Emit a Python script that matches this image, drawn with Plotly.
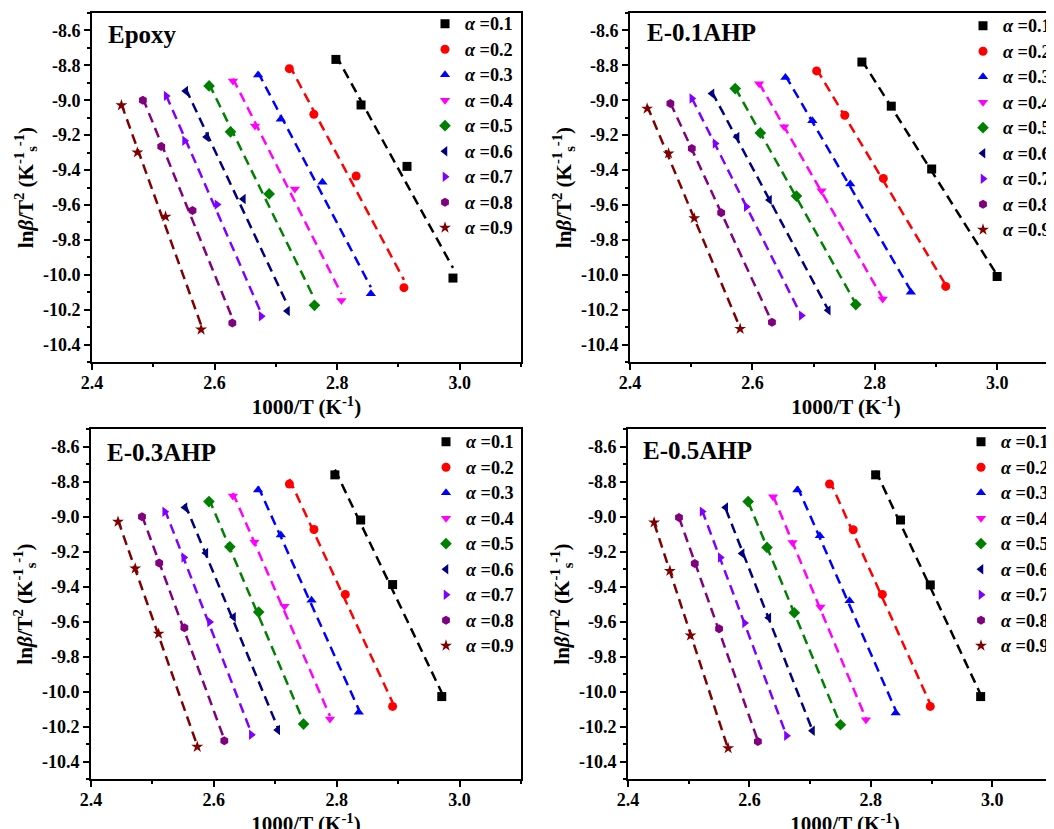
import numpy as np
import plotly.graph_objects as go

# ---------------- data ----------------
alphas = ["0.1", "0.2", "0.3", "0.4", "0.5", "0.6", "0.7", "0.8", "0.9"]
panel_names = ["Epoxy", "E-0.1AHP", "E-0.3AHP", "E-0.5AHP"]

epoxy_x = [
    [2.798, 2.839, 2.914, 2.989],
    [2.722, 2.762, 2.831, 2.909],
    [2.671, 2.708, 2.776, 2.855],
    [2.630, 2.666, 2.731, 2.807],
    [2.591, 2.626, 2.689, 2.763],
    [2.553, 2.587, 2.647, 2.719],
    [2.521, 2.551, 2.604, 2.676],
    [2.483, 2.513, 2.564, 2.629],
    [2.448, 2.474, 2.520, 2.578],
]
epoxy_y = [
    [-8.766, -9.027, -9.379, -10.019],
    [-8.819, -9.080, -9.434, -10.074],
    [-8.855, -9.109, -9.470, -10.109],
    [-8.890, -9.147, -9.509, -10.147],
    [-8.918, -9.181, -9.537, -10.175],
    [-8.947, -9.210, -9.566, -10.208],
    [-8.975, -9.232, -9.598, -10.238],
    [-9.000, -9.265, -9.632, -10.276],
    [-9.029, -9.299, -9.667, -10.314],
]

ahp01_x = [
    [2.779, 2.827, 2.893, 3.000],
    [2.705, 2.751, 2.814, 2.916],
    [2.654, 2.698, 2.760, 2.859],
    [2.611, 2.652, 2.713, 2.813],
    [2.572, 2.613, 2.672, 2.769],
    [2.534, 2.575, 2.628, 2.724],
    [2.501, 2.539, 2.590, 2.680],
    [2.466, 2.501, 2.549, 2.632],
    [2.428, 2.463, 2.505, 2.580],
]
ahp01_y = [
    [-8.781, -9.034, -9.394, -10.010],
    [-8.832, -9.086, -9.448, -10.067],
    [-8.870, -9.118, -9.480, -10.101],
    [-8.905, -9.152, -9.518, -10.139],
    [-8.933, -9.187, -9.549, -10.171],
    [-8.962, -9.210, -9.571, -10.204],
    [-8.990, -9.248, -9.610, -10.234],
    [-9.019, -9.276, -9.644, -10.272],
    [-9.048, -9.305, -9.676, -10.310],
]

ahp03_x = [
    [2.797, 2.839, 2.891, 2.971],
    [2.723, 2.763, 2.814, 2.891],
    [2.672, 2.709, 2.759, 2.836],
    [2.631, 2.666, 2.715, 2.789],
    [2.592, 2.626, 2.673, 2.746],
    [2.553, 2.587, 2.632, 2.704],
    [2.520, 2.551, 2.593, 2.661],
    [2.483, 2.511, 2.552, 2.617],
    [2.444, 2.472, 2.510, 2.573],
]
ahp03_y = [
    [-8.762, -9.020, -9.389, -10.029],
    [-8.814, -9.074, -9.445, -10.085],
    [-8.848, -9.106, -9.479, -10.119],
    [-8.883, -9.145, -9.513, -10.157],
    [-8.915, -9.173, -9.546, -10.186],
    [-8.948, -9.208, -9.575, -10.220],
    [-8.973, -9.234, -9.603, -10.247],
    [-9.001, -9.265, -9.636, -10.282],
    [-9.030, -9.297, -9.670, -10.316],
]

ahp05_x = [
    [2.808, 2.849, 2.898, 2.981],
    [2.732, 2.771, 2.819, 2.898],
    [2.679, 2.716, 2.765, 2.841],
    [2.639, 2.671, 2.717, 2.792],
    [2.598, 2.629, 2.674, 2.750],
    [2.561, 2.588, 2.632, 2.704],
    [2.522, 2.552, 2.592, 2.661],
    [2.484, 2.510, 2.550, 2.614],
    [2.443, 2.469, 2.503, 2.565],
]
ahp05_y = [
    [-8.762, -9.020, -9.391, -10.029],
    [-8.814, -9.076, -9.445, -10.085],
    [-8.849, -9.110, -9.482, -10.123],
    [-8.887, -9.148, -9.517, -10.161],
    [-8.915, -9.177, -9.550, -10.190],
    [-8.948, -9.211, -9.578, -10.224],
    [-8.972, -9.234, -9.609, -10.253],
    [-9.005, -9.269, -9.641, -10.286],
    [-9.034, -9.311, -9.680, -10.324],
]

x_tickvals = [2.4, 2.6, 2.8, 3.0]
x_ticktext = ["2.4", "2.6", "2.8", "3.0"]
y_tickvals = [-8.6, -8.8, -9.0, -9.2, -9.4, -9.6, -9.8, -10.0, -10.2, -10.4]
y_ticktext = ["-8.6", "-8.8", "-9.0", "-9.2", "-9.4", "-9.6", "-9.8", "-10.0", "-10.2", "-10.4"]

# ---------------- styles ----------------
FONT = "Liberation Serif"
colors = ["#000000", "#FF0000", "#0000FF", "#FF00FF", "#008000",
          "#000080", "#8000FF", "#800080", "#800000"]
symbols = ["square", "circle", "triangle-up", "triangle-down", "diamond",
           "triangle-left", "triangle-right", "hexagon", "star"]

W, H = 1054, 829
OFF = 8  # page body margin of the html page
# plot-area boxes in screenshot pixels (left, right, top, bottom)
boxes = [(92, 521, 13, 362), (630, 1062, 13, 362),
         (91, 521, 429, 779), (628, 1062, 429, 779)]
x_ranges = [[2.4, 3.1], [2.4, 3.106], [2.4, 3.1], [2.4, 3.115]]
legend_pos = [(445, 25), (983, 27), (446, 443), (981, 443)]
title_pos = [(106, 34), (645, 33), (105, 452), (641, 451)]

panels = [(epoxy_x, epoxy_y), (ahp01_x, ahp01_y), (ahp03_x, ahp03_y), (ahp05_x, ahp05_y)]

fig = go.Figure()
for p, (xs, ys) in enumerate(panels):
    sfx = "" if p == 0 else str(p + 1)
    leg = "legend" if p == 0 else "legend%d" % (p + 1)
    for i in range(len(alphas)):
        fig.add_trace(go.Scatter(
            x=xs[i], y=ys[i], mode="markers",
            marker=dict(symbol=symbols[i], size=9, color=colors[i], line=dict(width=0)),
            name='<span style="font-size:18.2px"><i>α</i> =' + alphas[i] + "</span>",
            legend=leg, showlegend=True,
            xaxis="x" + sfx, yaxis="y" + sfx))
        k, b = np.polyfit(xs[i], ys[i], 1)
        xf = [min(xs[i]), max(xs[i])]
        fig.add_trace(go.Scatter(
            x=xf, y=[k * v + b for v in xf], mode="lines",
            line=dict(color=colors[i], width=2.5, dash="10px,6px"),
            showlegend=False, hoverinfo="skip",
            xaxis="x" + sfx, yaxis="y" + sfx))


def fx(px):
    return (px - OFF) / W


def fy(py):
    return 1 - (py - OFF) / H


tickfont = dict(family=FONT, size=18, color="black", weight="bold")
titlefont = dict(family=FONT, size=21, color="black", weight="bold")
layout = dict(
    width=W, height=H, plot_bgcolor="white", paper_bgcolor="white",
    margin=dict(l=0, r=0, t=0, b=0, autoexpand=False),
    font=dict(family=FONT, color="black"),
    annotations=[],
)
for p in range(4):
    sfx = "" if p == 0 else str(p + 1)
    l, r, t, bt = boxes[p]
    common = dict(showline=True, linewidth=2, linecolor="black", mirror=True,
                  ticks="outside", ticklen=6, tickwidth=2, tickcolor="black",
                  showgrid=False, zeroline=False, tickfont=tickfont, automargin=False)
    layout["xaxis" + sfx] = dict(
        common, domain=[fx(l), min(fx(r), 1.0)], range=x_ranges[p], anchor="y" + sfx,
        tickmode="array", tickvals=x_tickvals, ticktext=x_ticktext, ticklabelstandoff=-3,
        minor=dict(ticks="outside", ticklen=3, tickwidth=2, tickcolor="black",
                   tickmode="linear", tick0=2.4, dtick=0.1),
        title=dict(text="1000/T (K<sup>-1</sup>)", font=titlefont, standoff=0))
    layout["yaxis" + sfx] = dict(
        common, domain=[fy(bt), fy(t)], range=[-10.5, -8.5], anchor="x" + sfx,
        tickmode="array", tickvals=y_tickvals, ticktext=y_ticktext,
        minor=dict(ticks="outside", ticklen=3, tickwidth=2, tickcolor="black",
                   tickmode="linear", tick0=-8.5, dtick=0.1),
        title=dict(text="ln<i>β</i>/T<sup>2</sup> (K<sup>-1</sup><sub>s</sub><sup>-1</sup>)",
                   font=titlefont, standoff=4))
    mx, my = legend_pos[p]
    layout["legend" if p == 0 else "legend%d" % (p + 1)] = dict(
        x=fx(mx - 20), y=fy(my - 19), xanchor="left", yanchor="top",
        xref="paper", yref="paper", bgcolor="rgba(0,0,0,0)", borderwidth=0,
        font=dict(family=FONT, size=17.3, color="black", weight="bold"),
        tracegroupgap=0)
    tx, ty = title_pos[p]
    layout["annotations"].append(dict(
        text=panel_names[p], x=fx(tx), y=fy(ty), xref="paper", yref="paper",
        xanchor="left", yanchor="middle", showarrow=False,
        font=dict(family=FONT, size=25, color="black", weight="bold")))

fig.update_layout(**layout)
fig.write_html("out.html")
